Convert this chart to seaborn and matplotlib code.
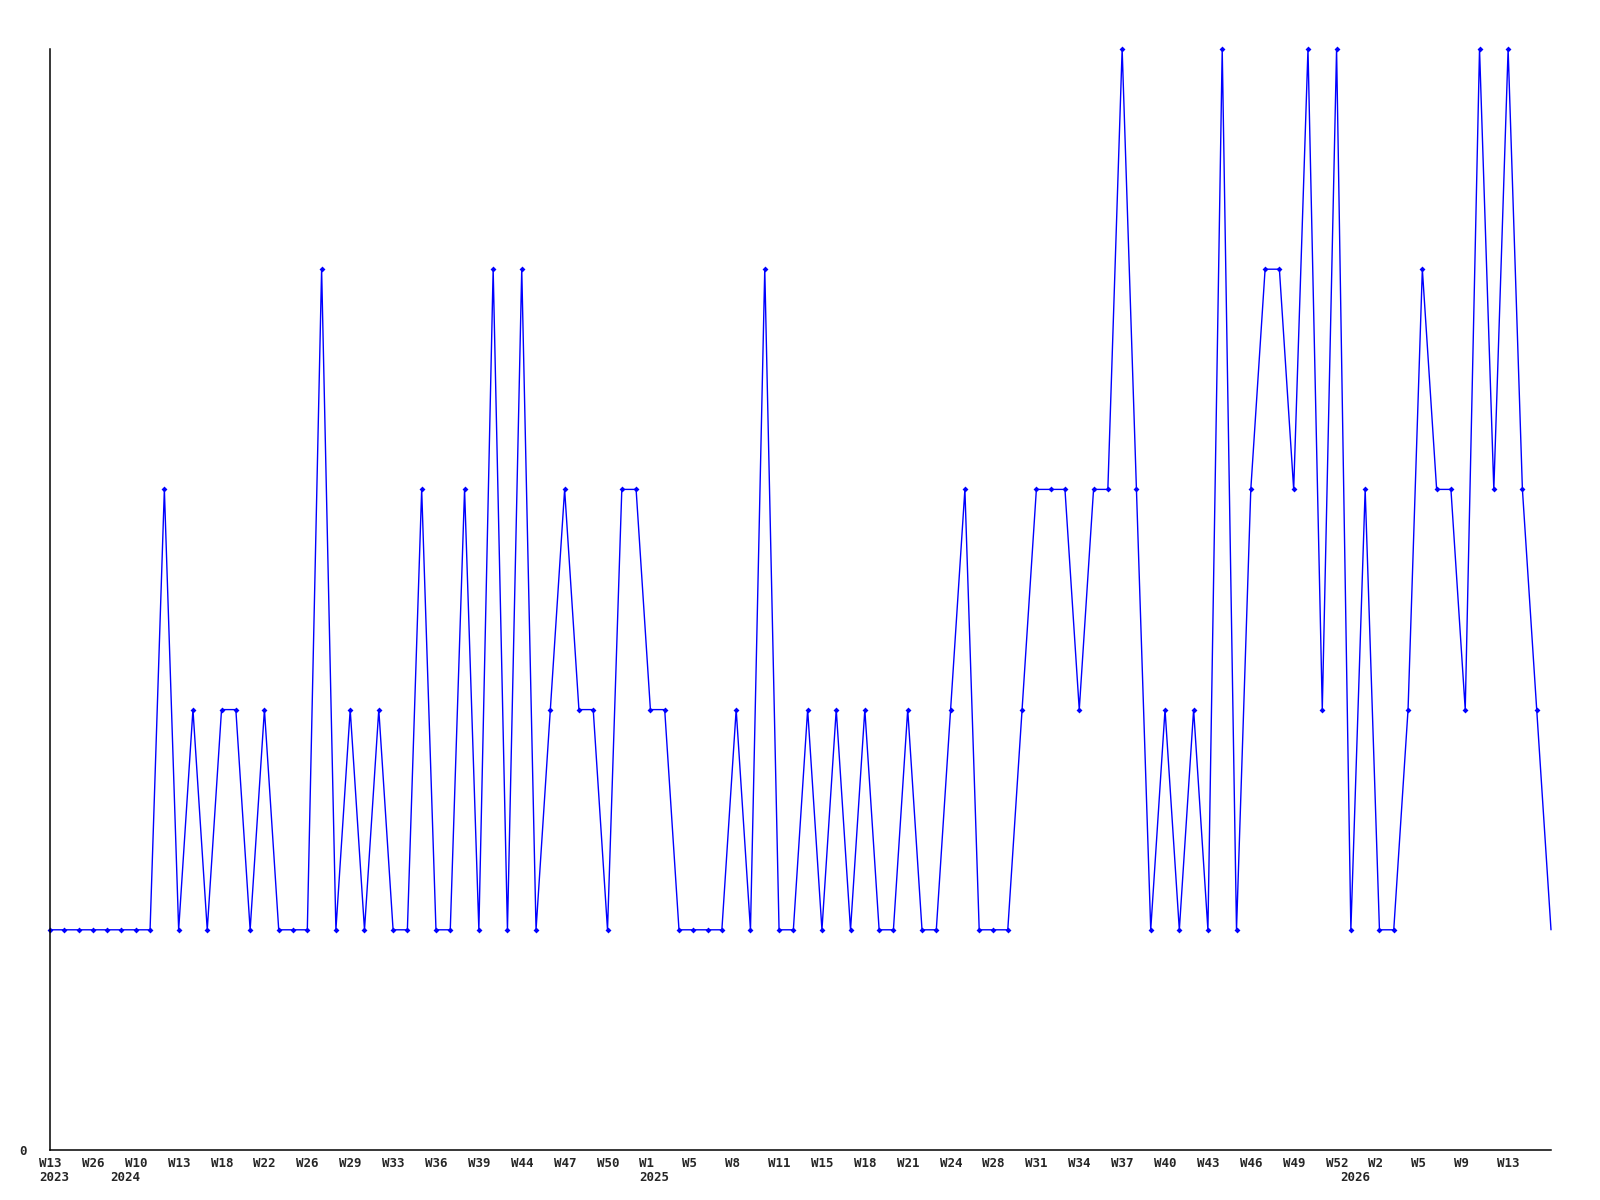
import matplotlib
matplotlib.use('Agg')
import matplotlib.pyplot as plt
from matplotlib.transforms import ScaledTranslation
import numpy as np
import pandas as pd
import seaborn as sns

# weekly counts, one value per point
counts = [1, 1, 1, 1, 1, 1, 1, 1, 3, 1,
          2, 1, 2, 2, 1, 2, 1, 1, 1, 4,
          1, 2, 1, 2, 1, 1, 3, 1, 1, 3,
          1, 4, 1, 4, 1, 2, 3, 2, 2, 1,
          3, 3, 2, 2, 1, 1, 1, 1, 2, 1,
          4, 1, 1, 2, 1, 2, 1, 2, 1, 1,
          2, 1, 1, 2, 3, 1, 1, 1, 2, 3,
          3, 3, 2, 3, 3, 5, 3, 1, 2, 1,
          2, 1, 5, 1, 3, 4, 4, 3, 5, 2,
          5, 1, 3, 1, 1, 2, 4, 3, 3, 2,
          5, 3, 5, 3, 2, 1]

# labels shown on every third point
week_labels = ['W13', 'W26', 'W10', 'W13', 'W18', 'W22', 'W26', 'W29', 'W33',
               'W36', 'W39', 'W44', 'W47', 'W50', 'W1', 'W5', 'W8', 'W11',
               'W15', 'W18', 'W21', 'W24', 'W28', 'W31', 'W34', 'W37', 'W40',
               'W43', 'W46', 'W49', 'W52', 'W2', 'W5', 'W9', 'W13']
label_step = 3

# first point of each year
years = ['2023', '2024', '2025', '2026']
year_start = [0, 5, 42, 91]

df = pd.DataFrame({'idx': np.arange(len(counts)), 'count': counts})

sns.set_style('white')
plt.rcParams['font.family'] = ['DejaVu Sans Mono', 'DejaVu Sans']

fig = plt.figure(figsize=(16, 12), dpi=100)
ax = fig.add_axes([50 / 1600, 50 / 1200, 1501 / 1600, 1101 / 1200])

sns.lineplot(data=df, x='idx', y='count', ax=ax, color='#0000ff', lw=1,
             marker='D', markersize=3, markeredgewidth=0,
             markevery=list(range(len(counts) - 1)), clip_on=False)

ax.set_xlim(0, len(counts) - 1)
ax.set_ylim(0, 5)
ax.set_xlabel('')
ax.set_ylabel('')

for s in ['top', 'right']:
    ax.spines[s].set_visible(False)
for s in ['left', 'bottom']:
    ax.spines[s].set_color('black')
    ax.spines[s].set_linewidth(1.1)

ax.set_yticks([0])
ax.set_yticklabels(['0'], fontsize=9, fontweight='bold')
ax.tick_params(axis='y', length=0, pad=17)

ticks = np.arange(0, label_step * len(week_labels), label_step)
ax.set_xticks(ticks)
ax.set_xticklabels(week_labels, fontsize=9, fontweight='bold')
ax.tick_params(axis='x', length=0, pad=5)
shift = ScaledTranslation(-11 / 100, 0, fig.dpi_scale_trans)
for lab in ax.get_xticklabels():
    lab.set_ha('left')
    lab.set_transform(lab.get_transform() + shift)

for yr, pos in zip(years, year_start):
    ax.annotate(yr, xy=(pos, 0), xycoords=('data', 'axes fraction'),
                xytext=(-11, -21), textcoords='offset pixels',
                ha='left', va='top', fontsize=9, fontweight='bold',
                annotation_clip=False)

ax.grid(False)
fig.savefig('out.png', dpi=100, facecolor='white')
